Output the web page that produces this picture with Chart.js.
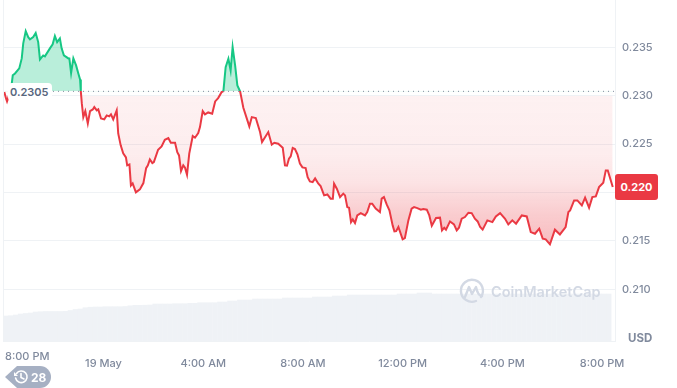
<!DOCTYPE html>
<html lang="en">
<head>
<meta charset="UTF-8">
<title>Price chart</title>
<script src="https://cdn.jsdelivr.net/npm/chart.js"></script>
<style>
    html, body { margin: 0; padding: 0; background: #fff; overflow: hidden; }
    body { width: 677px; height: 388px; position: relative; font-family: Inter, sans-serif; }
    canvas { position: absolute; left: 0; top: 0; }
    .over { position: absolute; white-space: nowrap; }
    #leftLine { left: 3px; top: 0; width: 1px; height: 341px; background: #eff2f5; }
    #baseTag { left: 8px; top: 83px; width: 42px; padding-left: 2px; height: 18px; line-height: 19px; background: #fff; border-radius: 4px; color: #58667e; font-size: 11px; font-weight: 600; }
    #priceTag { left: 615px; top: 174px; width: 43px; height: 26px; line-height: 26px; background: #ea3943; border-radius: 3px; color: #fff; font-size: 11px; font-weight: 700; text-align: center; }
    #firstTick { left: 5px; top: 349px; color: #808a9d; font-size: 11px; font-weight: 500; line-height: 14px; }
    #usd { left: 628px; top: 331px; color: #808a9d; font-size: 11.5px; font-weight: 700; }
    #mark { left: 491px; top: 283px; color: #d3d9e4; font-size: 14.5px; font-weight: 600; }
    svg.over { left: 0; top: 0; }
</style>
</head>
<body>
<canvas id="myChart" width="677" height="388"></canvas>
<div class="over" id="leftLine"></div>
<div class="over" id="baseTag"></div>
<div class="over" id="priceTag"></div>
<div class="over" id="firstTick"></div>
<div class="over" id="usd">USD</div>
<div class="over" id="mark">CoinMarketCap</div>
<svg class="over" width="677" height="388">
    <g fill="none" stroke="#d3d9e4" stroke-width="2.4" stroke-linecap="round" stroke-linejoin="round">
        <path d="M481 297 A11 11 0 1 0 476 301"/>
        <path d="M465 297 L469 287 L472 294 L476 287 Q478 296 482 296"/>
    </g>
    <path d="M5 377 L17 366 H40 A11 11 0 0 1 40 388 H17 Z" fill="#a6b0c3"/>
    <g fill="none" stroke="#fff" stroke-width="1.6" stroke-linecap="round">
        <path d="M16.5 373.5 A5.8 5.8 0 1 1 15.6 378"/>
        <path d="M21 373.5 V377.5 L24 379"/>
    </g>
    <path d="M14 372 L14 376 L18 376 Z" fill="#fff"/>
    <text x="31" y="381.5" fill="#fff" font-size="12" font-weight="700" font-family="Inter, sans-serif">28</text>
</svg>

<script>
// hours since 8:00 PM
const hours = [0.02,0.09,0.13,0.25,0.32,0.36,0.45,0.62,0.72,0.78,0.88,0.98,1.05,1.18,1.28,1.38,1.45,1.58,1.65,1.85,1.96,2.05,2.14,2.25,2.32,2.41,2.59,2.63,2.70,2.79,2.90,2.99,3.06,3.09,3.13,3.19,3.27,3.37,3.46,3.57,3.63,3.73,3.79,3.90,4.03,4.13,4.23,4.30,4.39,4.53,4.59,4.69,4.79,4.90,4.95,5.04,5.10,5.17,5.30,5.46,5.60,5.71,5.78,5.86,5.96,6.02,6.19,6.33,6.46,6.60,6.70,6.87,6.96,7.03,7.11,7.20,7.27,7.35,7.44,7.58,7.67,7.80,7.87,7.98,8.07,8.20,8.36,8.48,8.60,8.74,8.81,8.90,9.01,9.10,9.18,9.28,9.37,9.48,9.61,9.85,9.95,10.11,10.28,10.36,10.61,10.75,10.85,11.01,11.19,11.28,11.36,11.44,11.51,11.59,11.68,11.78,11.88,11.98,12.11,12.19,12.28,12.39,12.49,12.62,12.71,12.85,12.98,13.11,13.20,13.25,13.36,13.49,13.62,13.69,13.78,13.85,13.93,14.00,14.09,14.18,14.32,14.49,14.58,14.69,14.78,14.92,15.09,15.16,15.25,15.36,15.47,15.60,15.67,15.74,15.83,16.00,16.09,16.23,16.36,16.46,16.59,16.73,16.83,16.97,17.07,17.17,17.34,17.50,17.58,17.67,17.74,17.90,18.06,18.17,18.26,18.37,18.50,18.64,18.77,18.90,19.01,19.11,19.21,19.40,19.60,19.74,19.91,20.11,20.24,20.40,20.55,20.78,20.98,21.14,21.31,21.48,21.62,21.74,21.91,22.11,22.31,22.54,22.65,22.72,22.88,23.01,23.19,23.32,23.48,23.61,23.75,23.88,24.05,24.15,24.23,24.43];

const prices = [0.23038,0.22973,0.22942,0.23035,0.23128,0.23211,0.23231,0.23283,0.23386,0.23541,0.23668,0.23606,0.23583,0.23606,0.23648,0.23555,0.23376,0.23417,0.23407,0.23490,0.23531,0.23617,0.23555,0.23593,0.23490,0.23417,0.23386,0.23386,0.23234,0.23386,0.23314,0.23231,0.23169,0.23045,0.22921,0.22780,0.22842,0.22715,0.22842,0.22859,0.22883,0.22849,0.22859,0.22766,0.22756,0.22797,0.22787,0.22808,0.22756,0.22849,0.22611,0.22488,0.22405,0.22364,0.22281,0.22291,0.22074,0.22095,0.22002,0.22033,0.22098,0.22253,0.22281,0.22343,0.22305,0.22315,0.22443,0.22477,0.22546,0.22563,0.22515,0.22515,0.22418,0.22384,0.22222,0.22281,0.22257,0.22185,0.22402,0.22584,0.22567,0.22615,0.22677,0.22842,0.22808,0.22828,0.22815,0.22942,0.22976,0.23038,0.23048,0.23296,0.23383,0.23262,0.23503,0.23314,0.23107,0.23045,0.22877,0.22684,0.22780,0.22770,0.22625,0.22522,0.22625,0.22495,0.22515,0.22505,0.22464,0.22281,0.22278,0.22350,0.22374,0.22460,0.22449,0.22395,0.22299,0.22260,0.22253,0.22160,0.22116,0.22108,0.22147,0.22092,0.22067,0.21971,0.21981,0.21937,0.21937,0.22092,0.22040,0.21953,0.21989,0.21971,0.21850,0.21844,0.21695,0.21723,0.21685,0.21764,0.21788,0.21764,0.21799,0.21885,0.21885,0.21834,0.21799,0.21937,0.21953,0.21878,0.21816,0.21661,0.21599,0.21602,0.21644,0.21517,0.21530,0.21713,0.21834,0.21850,0.21840,0.21823,0.21830,0.21823,0.21764,0.21658,0.21737,0.21741,0.21609,0.21637,0.21617,0.21702,0.21671,0.21609,0.21637,0.21730,0.21747,0.21792,0.21788,0.21730,0.21702,0.21644,0.21617,0.21713,0.21695,0.21754,0.21788,0.21730,0.21671,0.21713,0.21679,0.21764,0.21754,0.21592,0.21575,0.21627,0.21524,0.21517,0.21465,0.21617,0.21568,0.21644,0.21799,0.21816,0.21919,0.21919,0.21868,0.21947,0.21844,0.21953,0.21961,0.22057,0.22102,0.22229,0.22229,0.22057];

// one volume bar every 12 minutes, left to right
const volumes = [25,25.3,26,27,27.5,28,29,29.3,29.5,29.5,29.5,29.5,29.7,30.5,31.5,32,33.3,33.8,34,34,34.3,34.3,34.3,34.3,34.5,35.2,35.7,35.7,35.8,36,37,37,37,37,37.3,37.3,37.3,37.7,37.7,38.3,38.3,38.3,38.3,39,39,40,40,41,41,41,42,42,42,42,42,42,43,43,43,43,43,43,44,44,44,44,45,45,45,46,46,46,46,46,46,46,46,46,46,47,47,47,47,48,48,48,47,47,47,47,47,47,47,47,47,47,47,47,47,47,47,47,47,47,47,47,47,47,47,47,47,47,47,47,47,47,47,47,47,47,47,47];

const baselinePrice = 0.23046;
const lastPrice = 0.220;

const tickHours = [0, 4, 8, 12, 16, 20, 24];
const tickLabels = ['8:00 PM', '19 May', '4:00 AM', '8:00 AM', '12:00 PM', '4:00 PM', '8:00 PM'];
const priceTicks = [0.210, 0.215, 0.220, 0.225, 0.230, 0.235];

document.getElementById('baseTag').textContent = baselinePrice.toFixed(4);
document.getElementById('priceTag').textContent = lastPrice.toFixed(3);
document.getElementById('firstTick').textContent = tickLabels[0];

const xMin = -0.032, xMax = 24.52;
const yMin = 0.204668, yMax = 0.239895;
const green = '#16c784', red = '#ea3943';

function vGradient(chart, from, to) {
    return chart.ctx.createLinearGradient(0, from, 0, to);
}

function lineColor(ctx) {
    const chart = ctx.chart;
    if (!chart.chartArea) return red;
    const area = chart.chartArea;
    const g = vGradient(chart, area.top, area.bottom);
    const stop = (chart.scales.y.getPixelForValue(baselinePrice) - area.top) / (area.bottom - area.top);
    g.addColorStop(0, green);
    g.addColorStop(stop, green);
    g.addColorStop(stop, red);
    g.addColorStop(1, red);
    return g;
}

function areaFill(ctx) {
    const chart = ctx.chart;
    if (!chart.chartArea) return false;
    const y = chart.scales.y;
    const top = y.getPixelForValue(baselinePrice);
    const bottom = y.getPixelForValue(0.2143);
    const grid = (y.getPixelForValue(0.230) - top) / (bottom - top);
    const below = vGradient(chart, top, bottom);
    below.addColorStop(0, 'rgba(234,57,67,0)');
    below.addColorStop(grid, 'rgba(234,57,67,0)');
    below.addColorStop(grid, 'rgba(234,57,67,0.07)');
    below.addColorStop(0.4, 'rgba(234,57,67,0.09)');
    below.addColorStop(0.58, 'rgba(234,57,67,0.14)');
    below.addColorStop(0.78, 'rgba(234,57,67,0.25)');
    below.addColorStop(1, 'rgba(234,57,67,0.35)');
    return { target: { value: baselinePrice }, above: 'rgba(22,199,132,0.3)', below: below };
}

new Chart(document.getElementById('myChart'), {
    type: 'line',
    data: {
        datasets: [
            {
                label: 'Price',
                data: hours.map((h, i) => ({ x: h, y: prices[i] })),
                borderColor: lineColor,
                borderWidth: 2,
                pointRadius: 0,
                tension: 0,
                fill: areaFill,
                order: 1
            },
            {
                label: 'Open',
                data: [{ x: xMin, y: baselinePrice }, { x: xMax, y: baselinePrice }],
                borderColor: '#808a9d',
                borderWidth: 1,
                borderDash: [1, 4],
                pointRadius: 0,
                fill: false,
                order: 0
            },
            {
                type: 'bar',
                label: 'Volume',
                yAxisID: 'vol',
                data: volumes.map((v, i) => ({ x: 0.07 + i * 0.2, y: v })),
                backgroundColor: '#eff2f6',
                barThickness: 4.7,
                order: 2
            }
        ]
    },
    options: {
        responsive: false,
        animation: false,
        layout: { padding: { left: 3 } },
        plugins: { legend: { display: false }, tooltip: { enabled: false } },
        scales: {
            x: {
                type: 'linear',
                offset: false,
                min: xMin,
                max: xMax,
                afterBuildTicks: (scale) => { scale.ticks = tickHours.map(v => ({ value: v })); },
                afterFit: (scale) => { scale.height = 47; scale.paddingLeft = 0; scale.paddingRight = 0; },
                grid: { display: false },
                border: { color: '#eff2f5' },
                ticks: {
                    autoSkip: false,
                    maxRotation: 0,
                    padding: 8,
                    color: '#808a9d',
                    font: { family: 'Inter', size: 11, weight: '500' },
                    callback: (v, i) => i === 0 ? '' : tickLabels[i]
                }
            },
            y: {
                position: 'right',
                min: yMin,
                max: yMax,
                afterBuildTicks: (scale) => { scale.ticks = priceTicks.map(v => ({ value: v })); },
                afterFit: (scale) => { scale.width = 62; scale.paddingTop = 0; scale.paddingBottom = 0; },
                grid: { color: '#eff2f5', drawTicks: false },
                border: { color: '#eff2f5' },
                ticks: {
                    padding: 7,
                    color: '#808a9d',
                    font: { family: 'Inter', size: 11, weight: '500' },
                    callback: (v) => v.toFixed(3)
                }
            },
            vol: { display: false, min: 0, max: 341 }
        }
    }
});
</script>
</body>
</html>
